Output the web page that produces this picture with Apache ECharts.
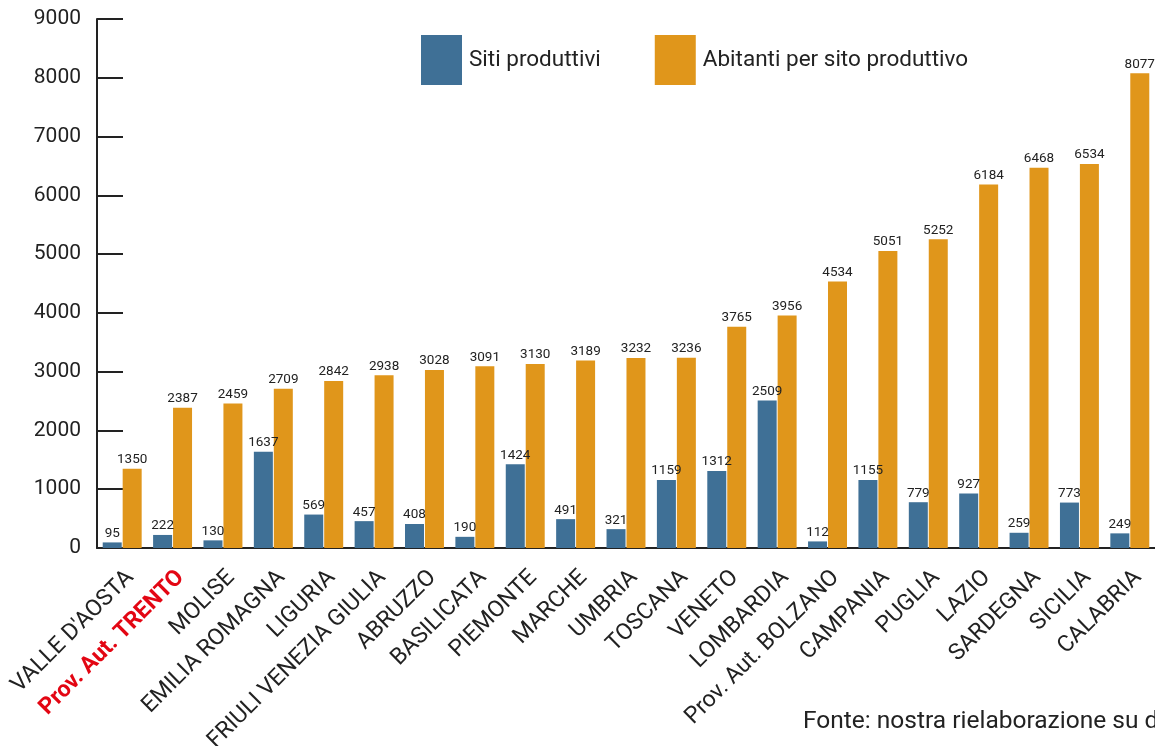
<!DOCTYPE html>
<html>
<head>
<meta charset="utf-8">
<script src="https://cdn.jsdelivr.net/npm/echarts@6/dist/echarts.min.js"></script>
<style>
  html, body { margin: 0; padding: 0; background: #fff; overflow: hidden; }
  #chart { width: 1155px; height: 746px; }
</style>
</head>
<body>
<div id="chart"></div>
<script>
var regioni = ["VALLE D'AOSTA", "Prov. Aut. TRENTO", "MOLISE", "EMILIA ROMAGNA", "LIGURIA",
  "FRIULI VENEZIA GIULIA", "ABRUZZO", "BASILICATA", "PIEMONTE", "MARCHE", "UMBRIA", "TOSCANA",
  "VENETO", "LOMBARDIA", "Prov. Aut. BOLZANO", "CAMPANIA", "PUGLIA", "LAZIO", "SARDEGNA",
  "SICILIA", "CALABRIA"];
var sitiProduttivi = [95, 222, 130, 1637, 569, 457, 408, 190, 1424, 491, 321, 1159,
  1312, 2509, 112, 1155, 779, 927, 259, 773, 249];
var abitantiPerSito = [1350, 2387, 2459, 2709, 2842, 2938, 3028, 3091, 3130, 3189, 3232, 3236,
  3765, 3956, 4534, 5051, 5252, 6184, 6468, 6534, 8077];
var yTicks = [0, 1000, 2000, 3000, 4000, 5000, 6000, 7000, 8000, 9000];

var font = "Roboto, 'Noto Sans', sans-serif";
var blu = "#3f7096";
var arancio = "#e0961b";

var chart = echarts.init(document.getElementById("chart"));
chart.setOption({
  animation: false,
  textStyle: { fontFamily: font },
  grid: { left: 97, right: 0, top: 19, bottom: 198, containLabel: false, outerBoundsMode: "none" },
  legend: {
    left: 416,
    top: 30,
    itemWidth: 41,
    itemHeight: 50,
    itemGap: 54,
    icon: "rect",
    textStyle: { fontSize: 22.5, color: "#222", fontFamily: font, padding: [0, 0, 0, 2] },
    data: ["Siti produttivi", "Abitanti per sito produttivo"]
  },
  xAxis: {
    type: "category",
    data: regioni,
    axisLine: { lineStyle: { color: "#222", width: 2 } },
    axisTick: { inside: true, length: 12, interval: 0, lineStyle: { color: "#222", width: 2 } },
    axisLabel: {
      interval: 0,
      rotate: 45,
      margin: 18,
      verticalAlign: "top",
      fontSize: 23,
      color: "#222",
      fontFamily: font,
      formatter: function (v) {
        return v === "Prov. Aut. TRENTO" ? "{red|" + v + "}" : v;
      },
      rich: {
        red: { color: "#e30613", fontWeight: "bold", fontSize: 23, fontFamily: font }
      }
    }
  },
  yAxis: {
    type: "value",
    min: yTicks[0],
    max: yTicks[yTicks.length - 1],
    interval: 1000,
    splitLine: { show: false },
    axisLine: { show: true, lineStyle: { color: "#222", width: 2 } },
    axisTick: { show: true, inside: true, length: 26, lineStyle: { color: "#222", width: 2 } },
    axisLabel: {
      fontSize: 21, color: "#222", margin: 16, fontFamily: font,
      formatter: function (v) { return String(v); }
    }
  },
  series: [
    {
      name: "Siti produttivi",
      type: "bar",
      data: sitiProduttivi,
      barWidth: 19,
      barGap: "5%",
      itemStyle: { color: blu },
      label: { show: true, position: "top", distance: 2, fontSize: 13.5, color: "#222", fontFamily: font }
    },
    {
      name: "Abitanti per sito produttivo",
      type: "bar",
      data: abitantiPerSito,
      barWidth: 19,
      itemStyle: { color: arancio },
      label: { show: true, position: "top", distance: 2, fontSize: 13.5, color: "#222", fontFamily: font }
    }
  ],
  graphic: [
    {
      type: "text",
      left: 803,
      top: 709,
      style: { text: "Fonte: nostra rielaborazione su dati", fontSize: 24.5, fill: "#222", fontFamily: font }
    }
  ]
});
</script>
</body>
</html>
